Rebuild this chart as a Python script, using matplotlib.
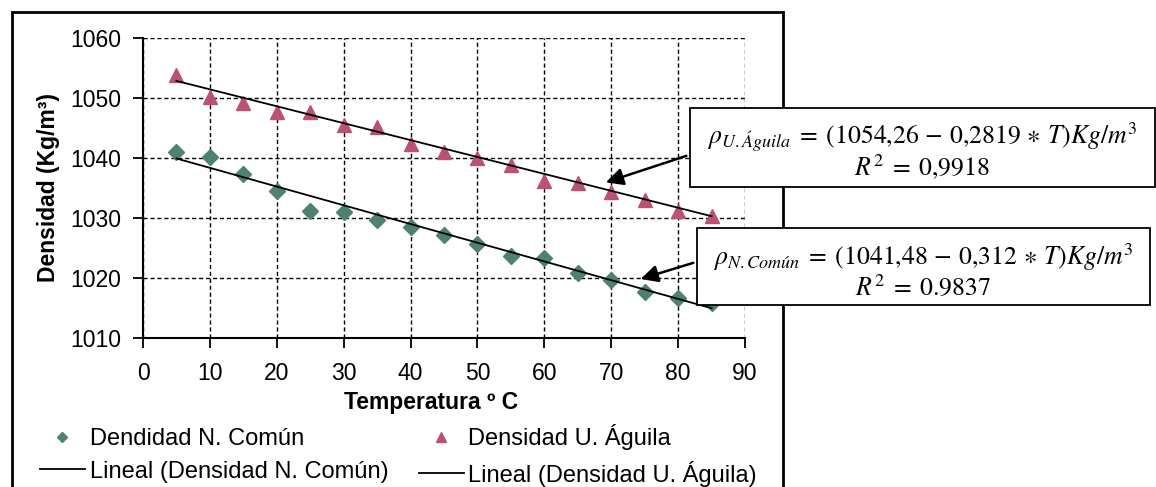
import numpy as np
import matplotlib
matplotlib.use('Agg')
import matplotlib.pyplot as plt
from matplotlib.patches import Rectangle

plt.rcParams['font.family'] = ['Liberation Sans', 'DejaVu Sans']
plt.rcParams['mathtext.fontset'] = 'stix'

# Datos
temperatura = [5, 10, 15, 20, 25, 30, 35, 40, 45, 50, 55, 60, 65, 70, 75, 80, 85]
dens_comun = [1041.0, 1040.2, 1037.4, 1034.5, 1031.2, 1031.0, 1029.7, 1028.5, 1027.2,
              1025.6, 1023.6, 1023.3, 1020.8, 1019.7, 1017.7, 1016.7, 1015.8]
dens_aguila = [1053.8, 1050.1, 1049.1, 1047.7, 1047.6, 1045.5, 1045.2, 1042.4, 1041.0,
               1040.0, 1038.8, 1036.1, 1035.8, 1034.4, 1033.0, 1031.1, 1030.3]

# Coeficientes de las rectas de ajuste (de los recuadros)
coef_comun = (1041.48, -0.312)
coef_aguila = (1054.26, -0.2819)

xticks = [0, 10, 20, 30, 40, 50, 60, 70, 80, 90]
yticks = [1010, 1020, 1030, 1040, 1050, 1060]

W, H = 1156, 487
fig = plt.figure(figsize=(W / 100, H / 100), dpi=100)
fig.patch.set_facecolor('white')

def fx(px):
    return px / W

def fy(py):
    return 1 - py / H

ax = fig.add_axes([fx(143), fy(338), fx(745) - fx(143), fy(38) - fy(338)])

col_comun = '#4e8172'
col_aguila = '#bb5272'

t = np.array(temperatura)
ax.plot(t, dens_comun, 'D', color=col_comun, ms=8.5, zorder=3, label='Dendidad N. Común')
ax.plot(t, dens_aguila, '^', color=col_aguila, ms=10.5, zorder=3, label='Densidad U. Águila')
t_fit = np.array([t.min(), t.max()])
ax.plot(t_fit, coef_comun[0] + coef_comun[1] * t_fit, '-', color='black', lw=1.3, zorder=4,
        label='Lineal (Densidad N. Común)')
ax.plot(t_fit, coef_aguila[0] + coef_aguila[1] * t_fit, '-', color='black', lw=1.3, zorder=4,
        label='Lineal (Densidad U. Águila)')

ax.set_xlim(0, 90)
ax.set_ylim(1010, 1060)
ax.set_xticks(xticks)
ax.set_yticks(yticks)
ax.grid(True, color='black', linestyle=(0, (3, 2)), lw=1)
ax.set_axisbelow(True)
for s in ['top', 'right']:
    ax.spines[s].set_visible(False)
for s in ['left', 'bottom']:
    ax.spines[s].set_linewidth(1.5)
ax.tick_params(axis='both', direction='out', length=7, width=1.3, labelsize=16.5)
ax.tick_params(axis='x', pad=10)
ax.tick_params(axis='y', pad=9)
ax.set_xlabel('Temperatura º C', fontsize=16.5, fontweight='bold')
ax.xaxis.set_label_coords(0.478, -0.175)
ax.set_ylabel('Densidad (Kg/m³)', fontsize=16.5, fontweight='bold', labelpad=7)

# leyenda
h, l = ax.get_legend_handles_labels()
order = [0, 2, 1, 3]
fig.legend([h[i] for i in order], [l[i] for i in order], ncol=2, frameon=False,
           loc='upper left', bbox_to_anchor=(fx(40), fy(424)), borderpad=0,
           borderaxespad=0, fontsize=17, handlelength=1.9, handletextpad=0.2,
           columnspacing=1.3, labelspacing=0.45, markerscale=0.65)

# marco exterior del gráfico
fig.add_artist(Rectangle((fx(12), fy(560)), fx(783) - fx(12), fy(12) - fy(560),
                         transform=fig.transFigure, fill=False, lw=2, ec='black'))

# recuadros con las ecuaciones
eq_boxes = [
    ((690, 108, 1155, 187),
     r'$\rho_{U.Águila}\; =\; (1054{,}26\, -\, 0{,}2819\, \ast\, T)Kg/m^3$', r'$R^2\; =\; 0{,}9918$'),
    ((697, 228, 1150, 305),
     r'$\rho_{N.Común}\; =\; (1041{,}48\, -\, 0{,}312\, \ast\, T)Kg/m^3$', r'$R^2\; =\; 0.9837$'),
]
for (x0, y0, x1, y1), l1, l2 in eq_boxes:
    fig.add_artist(Rectangle((fx(x0), fy(y1)), fx(x1) - fx(x0), fy(y0) - fy(y1),
                             transform=fig.transFigure, fc='white', ec='black', lw=1.3,
                             zorder=5))
    xc = fx((x0 + x1) / 2)
    fig.text(xc, fy(y0 + 29), l1, ha='center', va='center', fontsize=18.5, zorder=6)
    fig.text(xc, fy(y0 + 59), l2, ha='center', va='center', fontsize=18.5, zorder=6)

# flechas
ax.annotate('', xy=(68.8, 1035.8), xycoords='data', xytext=(fx(689), fy(155)),
            textcoords='figure fraction',
            arrowprops=dict(arrowstyle='-|>', color='black', lw=1.8, mutation_scale=26),
            zorder=6)
ax.annotate('', xy=(74.0, 1019.7), xycoords='data', xytext=(fx(696), fy(262)),
            textcoords='figure fraction',
            arrowprops=dict(arrowstyle='-|>', color='black', lw=1.8, mutation_scale=26),
            zorder=6)

fig.savefig('out.png', dpi=100, facecolor='white')
